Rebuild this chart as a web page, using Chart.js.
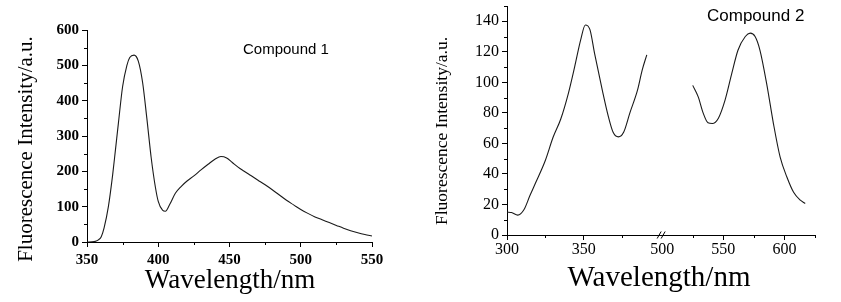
<!DOCTYPE html>
<html>
<head>
<meta charset="utf-8">
<script src="https://cdn.jsdelivr.net/npm/chart.js@4.4.1/dist/chart.umd.min.js"></script>
<style>
body { margin: 0; background: #fff; }
#wrap { position: relative; width: 841px; height: 302px; }
canvas { position: absolute; top: 0; }
</style>
</head>
<body>
<div id="wrap">
  <canvas id="grafico1" width="420" height="302" style="left:0"></canvas>
  <canvas id="grafico2" width="421" height="302" style="left:420px"></canvas>
</div>
<script>
// Compound 1 spectrum
const longitud1 = [350, 355, 358, 360, 362, 365, 368, 370, 372, 375, 378, 380, 383, 386, 389, 392, 395, 398,
  400, 403, 405, 408, 412, 416, 420, 425, 430, 435, 440, 444, 448, 452, 456, 460, 465, 470, 475, 480,
  485, 490, 495, 500, 505, 510, 515, 520, 525, 530, 535, 540, 545, 550];
const intensidad1 = [0, 1, 6, 15, 40, 100, 190, 262, 335, 440, 500, 522, 529, 512, 452, 350, 240, 155,
  115, 90, 87, 106, 138, 157, 172, 187, 204, 220, 235, 242, 238, 225, 212, 201, 188, 175, 162, 148,
  133, 118, 105, 92, 81, 71, 63, 55, 47, 39, 32, 26, 21, 17];

// Compound 2 spectrum, first segment (before the axis break)
const longitud2a = [300, 303, 307, 311, 315, 319, 325, 330, 335, 340, 344, 348, 351, 354, 357, 362, 366,
  369, 372.5, 376, 380, 385, 388, 391];
const intensidad2a = [15, 14.7, 13, 16.5, 26, 35, 49, 64, 76, 93, 110, 128, 137.6, 134.5, 119, 95, 77.5,
  67.5, 64.3, 67.5, 80, 95, 108, 118];

// Compound 2 spectrum, second segment (after the axis break)
const longitud2b = [525, 529.5, 533.5, 537.5, 541, 546, 551.5, 557, 562, 568, 572, 576, 580, 585.5, 591,
  596.5, 602, 607.5, 613, 617];
const intensidad2b = [98, 90.5, 80, 73.5, 73, 76.5, 88.5, 106, 121, 130, 132.2, 130, 121, 99, 73, 51,
  38, 28, 22.8, 20.6];

// Tick positions
const ticksX1 = [350, 375, 400, 425, 450, 475, 500, 525, 550];
const ticksX2a = [300, 325, 350, 375];
const ticksX2b = [500, 525, 550, 575, 600, 625];

const puntos = (xs, ys) => xs.map((x, i) => ({ x: x, y: ys[i] }));
const transparente = 'rgba(0,0,0,0)';

// Plugin that writes titles and labels as text on the canvas
const textos = {
  id: 'textos',
  afterDraw(chart, args, opts) {
    const ctx = chart.ctx;
    opts.items.forEach(t => {
      ctx.save();
      ctx.font = t.font;
      ctx.fillStyle = '#000';
      ctx.textAlign = t.align || 'center';
      ctx.textBaseline = t.baseline || 'alphabetic';
      ctx.translate(t.x, t.y);
      if (t.rot) ctx.rotate(t.rot);
      ctx.fillText(t.text, 0, 0);
      ctx.restore();
    });
  }
};

// Short ticks for the unlabelled (minor) positions
const menores = {
  id: 'menores',
  afterDraw(chart) {
    const ctx = chart.ctx;
    ctx.save();
    ctx.strokeStyle = '#000';
    ctx.lineWidth = 1;
    ctx.beginPath();
    Object.values(chart.scales).forEach(s => {
      s.ticks.forEach(t => {
        if (t.label !== '') return;
        const p = Math.round(s.getPixelForValue(t.value)) + 0.5;
        if (s.isHorizontal()) {
          ctx.moveTo(p, s.top); ctx.lineTo(p, s.top + 3);
        } else {
          ctx.moveTo(s.right, p); ctx.lineTo(s.right - 3, p);
        }
      });
    });
    ctx.stroke();
    ctx.restore();
  }
};

// Plugin for the "//" axis break marks
const corte = {
  id: 'corte',
  afterDraw(chart) {
    const s = chart.scales.x2;
    const x = s.left, y = s.top;
    const ctx = chart.ctx;
    ctx.save();
    ctx.strokeStyle = '#000';
    ctx.lineWidth = 1;
    ctx.beginPath();
    ctx.moveTo(x - 5, y + 3.5); ctx.lineTo(x - 1, y - 3.5);
    ctx.moveTo(x - 1, y + 3.5); ctx.lineTo(x + 3, y - 3.5);
    ctx.stroke();
    ctx.restore();
  }
};

const ejeComun = (fuente, largo, relleno) => ({
  type: 'linear',
  border: { color: '#000', width: 1 },
  grid: {
    drawOnChartArea: false, drawTicks: true, tickLength: largo, tickWidth: 1,
    tickColor: c => (c.tick && c.tick.label === '' ? transparente : '#000')
  },
  ticks: { color: '#000', font: fuente, padding: relleno, autoSkip: false, maxRotation: 0 }
});

const linea = { borderColor: '#1a1a1a', borderWidth: 1.1, pointRadius: 0, fill: false,
  cubicInterpolationMode: 'monotone' };

// Chart 1
const fuente1 = { family: 'Liberation Serif', size: 15, weight: 'bold' };
const x1 = ejeComun(fuente1, 5, 4);
Object.assign(x1, {
  min: 350, max: 550,
  afterBuildTicks: s => { s.ticks = ticksX1.map(v => ({ value: v })); },
  afterFit: s => { s.height = 30; s.paddingLeft = 0; s.paddingRight = 0; }
});
x1.ticks.callback = v => (v % 50 === 0 ? v : '');
const y1 = ejeComun(fuente1, 5, 3);
Object.assign(y1, {
  min: 0, max: 600,
  afterFit: s => { s.width = 40; s.paddingTop = 0; s.paddingBottom = 0; }
});
y1.ticks.stepSize = 50;
y1.ticks.callback = v => (v % 100 === 0 ? v : '');

new Chart('grafico1', {
  type: 'line',
  data: { datasets: [Object.assign({ data: puntos(longitud1, intensidad1) }, linea)] },
  options: {
    responsive: false, animation: false,
    layout: { padding: { left: 47, right: 48, top: 30, bottom: 30 } },
    scales: { x: x1, y: y1 },
    plugins: {
      legend: { display: false }, tooltip: { enabled: false },
      textos: { items: [
        { text: 'Fluorescence Intensity/a.u.', font: '21px "Liberation Serif"', x: 26, y: 149, rot: -Math.PI / 2, baseline: 'middle' },
        { text: 'Wavelength/nm', font: '27px "Liberation Serif"', x: 230, y: 288 },
        { text: 'Compound 1', font: '15px "Liberation Sans"', x: 243, y: 54, align: 'left' }
      ] }
    }
  },
  plugins: [textos, menores]
});

// Chart 2 (broken x axis: two stacked x scales)
const fuente2 = { family: 'Liberation Serif', size: 16 };
const x2a = ejeComun(fuente2, 5, 0);
Object.assign(x2a, {
  position: 'bottom', stack: 'abajo', stackWeight: 154.8,
  min: 300, max: 401,
  afterBuildTicks: s => { s.ticks = ticksX2a.map(v => ({ value: v })); },
  afterFit: s => { s.height = 30; s.paddingLeft = 0; s.paddingRight = 0; }
});
x2a.ticks.callback = v => (v % 50 === 0 ? v : '');
const x2b = ejeComun(fuente2, 5, 0);
Object.assign(x2b, {
  position: 'bottom', stack: 'abajo', stackWeight: 152.5,
  min: 500, max: 625,
  afterBuildTicks: s => { s.ticks = ticksX2b.map(v => ({ value: v })); },
  afterFit: s => { s.height = 30; s.paddingLeft = 0; s.paddingRight = 0; }
});
x2b.ticks.callback = v => (v % 50 === 0 ? v : '');
x2b.grid.tickColor = c => (c.tick && (c.tick.value === 500 || c.tick.label === '') ? transparente : '#000');
const y2 = ejeComun(fuente2, 5, 3);
Object.assign(y2, {
  min: 0, max: 150,
  afterFit: s => { s.width = 40; s.paddingTop = 0; s.paddingBottom = 0; }
});
y2.ticks.stepSize = 10;
y2.ticks.callback = v => (v % 20 === 0 ? v : '');

new Chart('grafico2', {
  type: 'line',
  data: { datasets: [
    Object.assign({ data: puntos(longitud2a, intensidad2a), xAxisID: 'x1' }, linea),
    Object.assign({ data: puntos(longitud2b, intensidad2b), xAxisID: 'x2' }, linea)
  ] },
  options: {
    responsive: false, animation: false,
    layout: { padding: { left: 47, right: 26, top: 6, bottom: 37 } },
    scales: { x1: x2a, x2: x2b, y: y2 },
    plugins: {
      legend: { display: false }, tooltip: { enabled: false },
      textos: { items: [
        { text: 'Fluorescence Intensity/a.u.', font: '17.5px "Liberation Serif"', x: 22, y: 131, rot: -Math.PI / 2, baseline: 'middle' },
        { text: 'Wavelength/nm', font: '29px "Liberation Serif"', x: 239, y: 286 },
        { text: 'Compound 2', font: '17px "Liberation Sans"', x: 287, y: 21, align: 'left' }
      ] }
    }
  },
  plugins: [textos, menores, corte]
});
</script>
</body>
</html>
